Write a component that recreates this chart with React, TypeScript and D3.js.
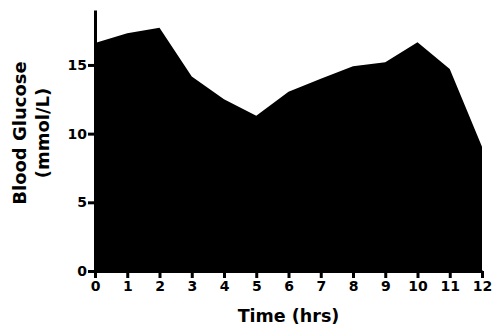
import * as d3 from "d3";
import { useEffect, useRef } from "react";

const hours = [0, 1, 2, 3, 4, 5, 6, 7, 8, 9, 10, 11, 12];
const glucose = [16.6, 17.3, 17.7, 14.15, 12.5, 11.3, 13.05, 14.0, 14.9, 15.2, 16.65, 14.7, 9.05];
const yTicks = [0, 5, 10, 15];

const App = () => {
  const ref = useRef<SVGSVGElement | null>(null);

  useEffect(() => {
    const width = 494;
    const height = 336;
    const margin = { top: 10, right: 12, bottom: 65, left: 95 };

    const svg = d3.select(ref.current);
    svg.selectAll("*").remove();

    const x = d3
      .scaleLinear()
      .domain([0, 12])
      .range([margin.left, width - margin.right]);
    const y = d3
      .scaleLinear()
      .domain([0, 19])
      .range([height - margin.bottom, margin.top]);

    const area = d3
      .area<number>()
      .x((_, i) => x(hours[i]))
      .y0(y(0))
      .y1((d) => y(d));

    svg.append("path").datum(glucose).attr("d", area).attr("fill", "#000");

    const font = "'DejaVu Sans', Verdana, sans-serif";

    const xAxis = svg
      .append("g")
      .attr("transform", `translate(0, ${y(0)})`)
      .call(d3.axisBottom(x).tickValues(hours).tickSize(7).tickSizeOuter(0).tickPadding(3));
    const yAxis = svg
      .append("g")
      .attr("transform", `translate(${margin.left}, 0)`)
      .call(d3.axisLeft(y).tickValues(yTicks).tickSize(7).tickSizeOuter(0).tickPadding(1));

    [xAxis, yAxis].forEach((g) => {
      g.select(".domain").attr("stroke", "#000").attr("stroke-width", 3);
      g.selectAll(".tick line").attr("stroke", "#000").attr("stroke-width", 3);
      g.selectAll(".tick text")
        .attr("fill", "#000")
        .attr("font-family", font)
        .attr("font-weight", "bold")
        .attr("font-size", 14);
    });

    svg
      .append("text")
      .attr("x", (x(0) + x(12)) / 2)
      .attr("y", 322)
      .attr("text-anchor", "middle")
      .attr("font-family", font)
      .attr("font-weight", "bold")
      .attr("font-size", 17.5)
      .text("Time (hrs)");

    const yTitle = svg
      .append("text")
      .attr("transform", "translate(26, 133) rotate(-90)")
      .attr("text-anchor", "middle")
      .attr("font-family", font)
      .attr("font-weight", "bold")
      .attr("font-size", 18);
    yTitle.append("tspan").attr("x", 0).attr("y", 0).text("Blood Glucose");
    yTitle.append("tspan").attr("x", 0).attr("y", 23).text("(mmol/L)");
  }, []);

  return (
    <svg
      ref={ref}
      width={494}
      height={336}
      style={{ position: "absolute", left: 0, top: 0, background: "#fff" }}
    />
  );
};

export default App;
